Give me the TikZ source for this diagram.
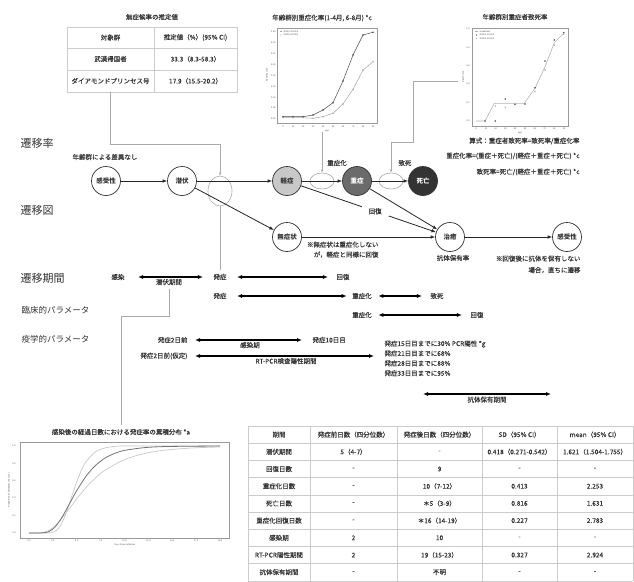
\documentclass[tikz,border=0pt]{standalone}
\usepackage{fontspec}
\setmainfont{Noto Sans CJK JP}[UprightFeatures={FakeBold=0.18}]
\newfontfamily\plainf{Noto Sans CJK JP}
\usetikzlibrary{arrows.meta,shapes.geometric}
\definecolor{txt}{HTML}{333333}
\definecolor{tbc}{HTML}{CCCCCC}
\definecolor{gl}{HTML}{AAAAAA}
\definecolor{mildc}{HTML}{C8C8C8}
\definecolor{sevc}{HTML}{6B6B6B}
\definecolor{deadc}{HTML}{333333}
\definecolor{pf}{HTML}{999999}
\definecolor{lc}{HTML}{C8C8C8}
\begin{document}
\begin{tikzpicture}[x=1pt,y=-1pt,
  every node/.style={text=txt, font=\fontsize{6.5}{8}\selectfont},
  stt/.style={circle, draw=black!80, line width=0.7pt, minimum size=29pt, inner sep=0pt, font=\fontsize{6.5}{8}\selectfont\bfseries},
  arr/.style={-{Latex[length=4.5pt,width=3.5pt]}, line width=0.8pt, black!85},
  darr/.style={{Latex[length=5pt,width=4pt]}-{Latex[length=5pt,width=4pt]}, line width=1.2pt, black},
  gline/.style={draw=gl, line width=0.6pt},
  garr/.style={gline, -{Latex[length=3pt,width=2.5pt]}},
  gell/.style={ellipse, draw=gl, line width=0.6pt, inner sep=0pt},
  tbline/.style={draw=tbc, line width=0.5pt},
  secA/.style={font=\plainf\fontsize{11}{13}\selectfont, anchor=west},
  secB/.style={font=\plainf\fontsize{8.5}{10}\selectfont, anchor=west},
  ptxt/.style={font=\plainf\fontsize{2.2}{2.6}\selectfont, inner sep=0.3pt, text=black!70},
  pfr/.style={draw=pf, line width=0.5pt},
]
\useasboundingbox (0,0) rectangle (634,581);

% ---------- top-left table ----------
\node (ttl1) at (152,17) {無症候率の推定値};
\draw[tbline] (67,27) rectangle (237,92);
\draw[tbline] (154,27) -- (154,92);
\draw[tbline] (67,48) -- (237,48);
\draw[tbline] (67,70) -- (237,70);
\node (a11) at (110.5,37.5) {対象群};
\node (a12) at (195.5,37.5) {推定値（\%）(95\% CI)};
\node (a21) at (110.5,59) {武漢帰国者};
\node (a22) at (195.5,59) {33.3（8.3-58.3）};
\node (a31) at (110.5,81) {ダイアモンドプリンセス号};
\node (a32) at (195.5,81) {17.9（15.5-20.2）};
\coordinate (tA) at (110,92);

% ---------- plot 1 ----------
\node (ttl2) at (322,18) {年齢群別重症化率(1-4月, 6-8月) *c};
\draw[pfr] (277,28) rectangle (377,123);
\foreach \v [count=\i from 0] in {0.00,0.05,0.10,0.15,0.20,0.25,0.30,0.35,0.40}
  \node[ptxt, anchor=east] (pay\i) at (276,{119-10.875*\i}) {\v};
\foreach \v [count=\i from 0] in {0,10,20,30,40,50,60,70,80,90}
  \node[ptxt] (pax\i) at ({283+10*\i},126.5) {\v};
\node[ptxt, rotate=90] (pyl) at (267,75) {Severity rate};
\node[ptxt] (pxl) at (327,131) {Age};
\draw[black!70, line width=0.5pt] plot coordinates {(283,116.7) (293,116.7) (303,116.7) (313,115) (323,110) (333,102.7) (343,81) (353,55) (363,35) (373,32.3)};
\foreach \p in {(283,116.7),(293,116.7),(303,116.7),(313,115),(323,110),(333,102.7),(343,81),(353,55),(363,35),(373,32.3)}
  \fill[black!70] \p circle (0.9pt);
\draw[black!35, line width=0.5pt] plot coordinates {(283,117.7) (293,117.7) (303,117.7) (313,118.3) (323,116.7) (333,113.3) (343,104) (353,89.3) (363,70) (373,61.7)};
\foreach \p in {(283,117.7),(293,117.7),(303,117.7),(313,118.3),(323,116.7),(333,113.3),(343,104),(353,89.3),(363,70),(373,61.7)}
  \fill[black!35] \p circle (0.8pt);
\fill[black!70] (281,31.5) circle (0.7pt);
\node[ptxt, anchor=west] (pl1) at (283,31.5) {2020/1-2020/4};
\fill[black!35] (281,35) circle (0.7pt);
\node[ptxt, anchor=west] (pl2) at (283,35) {2020/6-2020/8};
\coordinate (p1b) at (322,132);

% ---------- plot 2 ----------
\node (ttl3) at (515,17) {年齢群別重症者致死率};
\draw[pfr] (472,28) rectangle (568,126);
\foreach \v [count=\i from 0] in {0.0,0.2,0.4,0.6,0.8,1.0}
  \node[ptxt, anchor=east] (qay\i) at (470,{121-18.4*\i}) {\v};
\foreach \v [count=\i from 0] in {0,10,20,30,40,50,60,70,80,90}
  \node[ptxt] (qax\i) at ({476+9.8*\i},129) {\v};
\node[ptxt, rotate=90] (qyl) at (463,77) {Death rate};
\node[ptxt] (qxl) at (520,132.5) {Age};
\draw[black!30, line width=0.6pt] plot coordinates {(475.7,121) (485,121) (494.3,103.3) (524.3,103.3) (535,88.3) (545,66.7) (554.3,42.7) (563.7,33.3)};
\foreach \p in {(485,121),(495.3,121),(505.3,99),(515,104.3),(525,104),(535,87.7),(545,61),(554.3,40),(563.7,32.7)}
  \fill[black!70] \p circle (0.9pt);
\foreach \p in {(495.3,106),(505.3,107.3),(535,91.7),(545,70),(554.3,45),(563.7,34)}
  \fill[black!35] \p circle (0.8pt);
\draw[black!30, line width=0.5pt] (475,31.5) -- (478,31.5);
\node[ptxt, anchor=west] (ql1) at (479,31.5) {smoothed};
\fill[black!70] (476.5,35) circle (0.7pt);
\node[ptxt, anchor=west] (ql2) at (479,35) {2020/1-2020/4};
\fill[black!35] (476.5,38.5) circle (0.7pt);
\node[ptxt, anchor=west] (ql3) at (479,38.5) {2020/6-2020/8};
\coordinate (p2l) at (458,81);

% ---------- formulas ----------
\node[anchor=east] (f1) at (583,141) {算式：重症者致死率=致死率/重症化率};
\node[anchor=east] (f2) at (583,156) {重症化率=(重症＋死亡)/(軽症＋重症＋死亡) *c};
\node[anchor=east] (f3) at (583,172) {致死率=死亡/(軽症＋重症＋死亡) *c};

% ---------- section headings ----------
\node[secA] (h1) at (17,143) {遷移率};
\node[secA] (h2) at (17,210) {遷移図};
\node[secA] (h3) at (17,278) {遷移期間};
\node[secB] (h4) at (18,310) {臨床的パラメータ};
\node[secB] (h5) at (18,339) {疫学的パラメータ};

% ---------- transition diagram ----------
\node (nodiff) at (105,157) {年齢群による差異なし};
\node[stt, fill=white] (sus1) at (106,181) {感受性};
\node[stt, fill=white] (lat) at (182,181) {潜伏};
\node[stt, fill=mildc] (mild) at (287,181) {軽症};
\node[stt, fill=sevc, text=white] (sev) at (357,181) {重症};
\node[stt, fill=deadc, text=white] (dead) at (423,181) {死亡};
\node[stt, fill=white] (asym) at (287,237) {無症状};
\node[stt, fill=white] (heal) at (450,237) {治癒};
\node[stt, fill=white] (sus2) at (567,237) {感受性};

\node[gell, minimum width=24pt, minimum height=30pt] (ell1) at (220,191) {};
\node[gell, minimum width=24pt, minimum height=16pt] (ell2) at (322,181) {};
\node[gell, minimum width=24pt, minimum height=16pt] (ell3) at (391,181) {};
\node (lsev) at (337,163) {重症化};
\node (ldead) at (405,163) {致死};

\draw[arr] (sus1) -- (lat);
\draw[arr] (lat) -- (mild);
\draw[arr] (lat) -- (asym);
\draw[arr] (mild) -- (sev);
\draw[arr] (sev) -- (dead);
\draw[arr] (mild) -- node[pos=0.55, fill=white, inner xsep=7pt, inner ysep=2pt] (lrec) {回復} (heal);
\draw[arr] (sev) -- (heal);
\draw[arr] (asym) -- (heal);
\draw[arr] (heal) -- (sus2);

\node[align=right, anchor=north east, font=\fontsize{6.5}{10}\selectfont] (note1) at (382,238) {※無症状は重症化しない\\が，軽症と同様に回復};
\node (abr) at (453,258) {抗体保有率};
\node[align=right, anchor=north east, font=\fontsize{6.5}{11.5}\selectfont] (note2) at (584,252) {※回復後に抗体を保有しない\\場合，直ちに遷移};

% gray connectors
\draw[garr] (tA) -- ++(0,52) -| (ell1.north);
\draw[garr] (p1b) -- (ell2.north);
\draw[garr] (p2l) -- ++(-45,0) -- ++(0,61) -| (ell3.north);

% ---------- transition periods ----------
\node (q1a) at (118,277) {感染};
\node (q1b) at (220,277) {発症};
\node (q1c) at (343,277) {回復};
\node (q2a) at (220,296) {発症};
\node (q2b) at (362,296) {重症化};
\node (q2c) at (437,296) {致死};
\node (q3a) at (362,315) {重症化};
\node (q3b) at (477,315) {回復};
\draw[darr, shorten <=10pt, shorten >=7pt] (q1a) -- node[below, inner sep=1.5pt] (latp) {潜伏期間} (q1b);
\draw[darr, shorten <=7pt, shorten >=5pt] (q1b) -- (q1c);
\draw[darr, shorten <=7pt, shorten >=2pt] (q2a) -- (q2b);
\draw[darr, shorten <=3pt, shorten >=5pt] (q2b) -- (q2c);
\draw[darr, shorten <=3pt, shorten >=5pt] (q3a) -- (q3b);
\draw[gline] (ell1.south) -- (q1b.north);

% epidemiological
\node[anchor=east] (e1a) at (191,340) {発症2日前};
\node[anchor=west] (e1b) at (309,340) {発症10日目};
\node[anchor=east] (e2a) at (191,356) {発症2日前(仮定)};
\node[anchor=north west, align=left, font=\fontsize{6.5}{9.9}\selectfont] (pcr) at (381,337) {発症15日目までに30\% PCR陽性 *g\\発症21日目までに68\%\\発症28日目までに88\%\\発症33日目までに95\%};
\draw[darr, shorten <=4pt, shorten >=7pt] (e1a) -- node[below, inner sep=1.5pt] (infp) {感染期} (e1b);
\draw[darr, shorten <=4pt, shorten >=7pt] (e2a.east) -- node[below, inner sep=1.5pt] (rtp) {RT-PCR検査陽性期間} (e2a.east -| pcr.west);
\coordinate (ab1) at (423,394);
\coordinate (ab2) at (551,394);
\draw[darr] (ab1) -- node[below, inner sep=2pt] (abp) {抗体保有期間} (ab2);

% ---------- bottom-left plot ----------
\node (ttl4) at (121,432) {感染後の経過日数における発症率の累積分布 *a};
\draw[gline] ([yshift=-2pt]latp.south) -- ++(0,27) -| (ttl4.north);
\draw[pfr] (20,442) rectangle (229,538);
\foreach \v [count=\i from 0] in {0.0,2.5,5.0,7.5,10.0,12.5,15.0,17.5,20.0}
  \node[ptxt] (rax\i) at ({29+23.875*\i},541) {\v};
\foreach \v [count=\i from 0] in {0.0,0.2,0.4,0.6,0.8,1.0}
  \node[ptxt, anchor=east] (ray\i) at (16,{533-17.4*\i}) {\v};
\node[ptxt] (rxl) at (125,545) {Days Since Infection};
\node[ptxt, rotate=90] (ryl) at (9,490) {Proportion of Symptomatic Cases};
\draw[lc, line width=0.7pt] plot[smooth] coordinates {(29,533) (38.6,533) (43.3,533) (48.1,533) (52.9,532.4) (57.7,529.4) (62.4,522) (67.2,510) (72,495.6) (76.8,481.7) (81.5,470) (86.3,461.3) (95.9,451.6) (105.4,447.8) (115,446.4) (124.5,446) (172,446) (220,446)};
\draw[lc, line width=0.7pt] plot[smooth] coordinates {(29,533) (38.6,533) (43.3,532.4) (48.1,530.8) (52.9,527.7) (57.7,523.2) (62.4,517.6) (67.2,511.4) (72,505) (76.8,498.7) (86.3,487.2) (95.9,477.5) (105.4,469.9) (124.5,459.6) (143.6,453.7) (162.7,450.4) (191.4,448) (220,447)};
\draw[black!55, line width=0.8pt] plot[smooth] coordinates {(29,533) (38.6,533) (43.3,532.8) (48.1,531.9) (52.9,529) (57.7,523.8) (62.4,516.6) (67.2,508) (72,499.1) (76.8,490.5) (86.3,475.8) (95.9,465.1) (105.4,457.8) (115,453.3) (124.5,450.4) (143.6,447.7) (162.7,446.6) (191.4,446.2) (220,446)};

% ---------- bottom table ----------
\foreach \x in {248,310,397,482,557,633} \draw[tbline] (\x,426) -- (\x,580.8);
\foreach \i in {0,...,9} \draw[tbline] (248,{426+17.2*\i}) -- (633,{426+17.2*\i});
\foreach \a/\b/\c/\d/\e [count=\k from 0] in {
  期間/発症前日数（四分位数）/発症後日数（四分位数）/SD（95\% CI）/mean（95\% CI）,
  潜伏期間/5（4-7）/-/0.418（0.271-0.542）/1.621（1.504-1.755）,
  回復日数/-/9/-/-,
  重症化日数/-/10（7-12）/0.413/2.253,
  死亡日数/-/＊5（3-9）/0.816/1.631,
  重症化回復日数/-/＊16（14-19）/0.227/2.783,
  感染期/2/10/-/-,
  RT-PCR陽性期間/2/19（15-23）/0.327/2.924,
  抗体保有期間/-/不明/-/-}{
  \node (tb\k c1) at (279,{434.6+17.2*\k}) {\a};
  \node (tb\k c2) at (353.5,{434.6+17.2*\k}) {\b};
  \node (tb\k c3) at (439.5,{434.6+17.2*\k}) {\c};
  \node (tb\k c4) at (519.5,{434.6+17.2*\k}) {\d};
  \node (tb\k c5) at (595,{434.6+17.2*\k}) {\e};
}
\end{tikzpicture}
\end{document}
